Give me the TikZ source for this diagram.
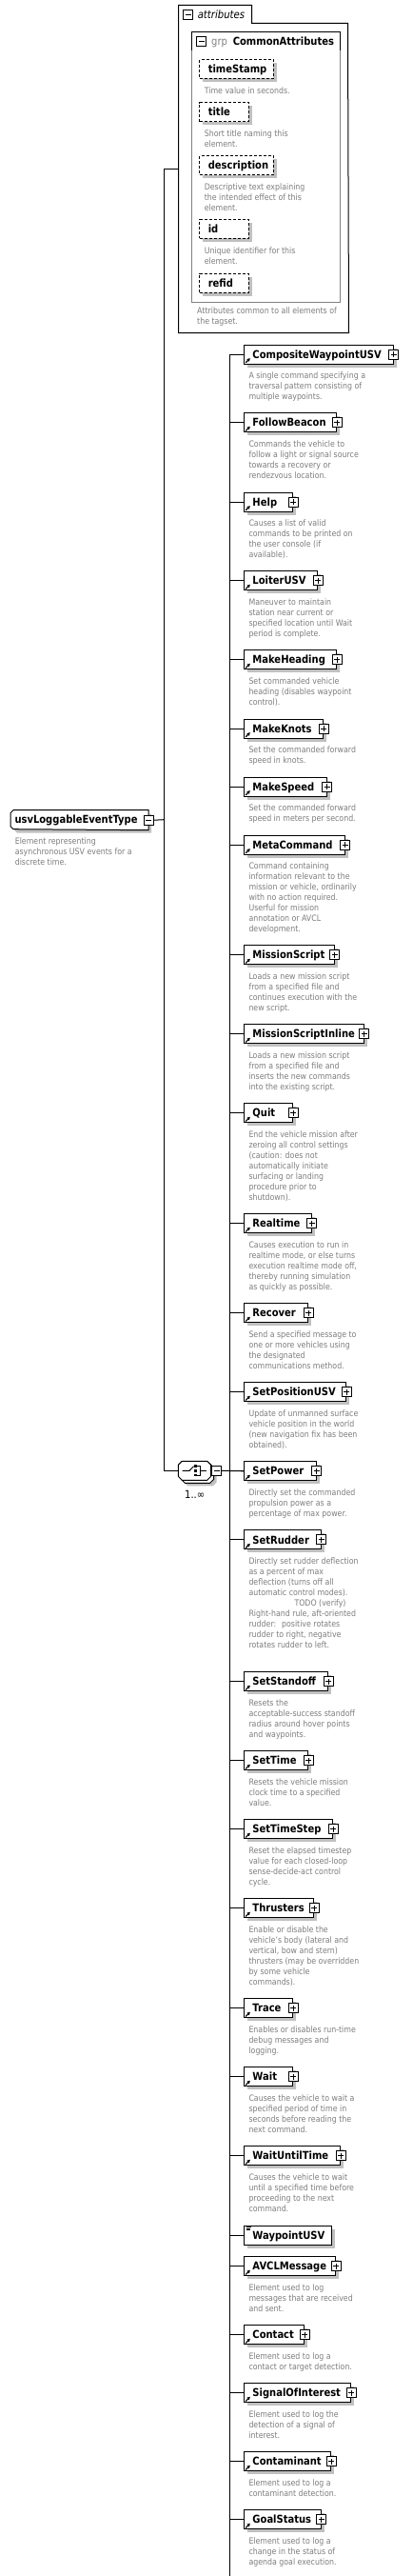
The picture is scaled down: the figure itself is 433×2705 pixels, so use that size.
\documentclass[tikz,border=0pt]{standalone}
\usepackage{fontspec}
\setmainfont{DejaVu Sans}[FakeStretch=0.88]
\usetikzlibrary{arrows.meta}
\definecolor{descgray}{RGB}{125,125,125}
\definecolor{shadowgray}{RGB}{192,192,192}
\definecolor{grpgray}{RGB}{128,128,128}
\tikzset{
  ebox/.style={draw, fill=white, line width=0.75pt, inner sep=0pt, minimum height=15pt},
  abox/.style={ebox, dash pattern=on 2.25pt off 1.5pt},
  ename/.style={font=\fontsize{8.5}{10}\selectfont\bfseries, inner sep=0pt, text height=6.2pt, text depth=0pt, anchor=west},
  desc/.style={font=\fontsize{6.7}{8.25}\selectfont, text=descgray, align=left, inner sep=0pt, anchor=north west},
  pbox/.style={draw, fill=white, line width=0.75pt, inner sep=0pt, minimum size=7.5pt,
    path picture={\draw[line width=0.75pt] ([yshift=-1.5pt]path picture bounding box.north) -- ([yshift=1.5pt]path picture bounding box.south) ([xshift=1.5pt]path picture bounding box.west) -- ([xshift=-1.5pt]path picture bounding box.east);}},
  mbox/.style={draw, fill=white, line width=0.75pt, inner sep=0pt, minimum size=7.5pt,
    path picture={\draw[line width=0.75pt] ([xshift=1.5pt]path picture bounding box.west) -- ([xshift=-1.5pt]path picture bounding box.east);}},
  conn/.style={line width=0.75pt},
  refarrow/.style={line width=0.9pt, -{Triangle[length=2.4pt,width=2.6pt]}},
}
\newcommand\childel[5]{%
  \fill[shadowgray] (260.3,#2+4) rectangle (#3+4,#2+24);
  \node[ebox, anchor=north west, minimum width={(#3-256.3)*0.75pt}] (#1) at (256.3,#2) {};
  \node[ename] (#1-t) at ([xshift=6.5pt]#1.west) {#4};
  \node[pbox] (#1-p) at (#1.east) {};
  \draw[refarrow] ([xshift=1.4pt,yshift=1.4pt]#1.south west) -- ([xshift=4.9pt,yshift=4.9pt]#1.south west);
  \node[desc] (#1-d) at (261,#2+27.6) {\strut #5};
  \draw[conn] (busT |- #1.west) -- (#1.west);
}
\newcommand\attrel[4]{%
  \fill[shadowgray] (213.3,#2+4) rectangle (#3+4,#2+24);
  \node[abox, anchor=north west, minimum width={(#3-209.3)*0.75pt}] (#1) at (209.3,#2) {};
  \node[ename] (#1-t) at ([xshift=6.75pt]#1.west) {#4};
}
\begin{document}
\begin{tikzpicture}[x=0.75pt, y=-0.75pt, line width=0.75pt]
\useasboundingbox (0,0) rectangle (433,2705);
% ---------------- attributes container
\node[inner sep=0pt, anchor=north west, minimum width=133.5pt, minimum height=257.25pt] (attr) at (187.5,5.5) {};
\draw (attr.north west) -- (264.5,5.5) -- (264.5,24.5) -- (365.5,24.5) -- (attr.south east) -- (attr.south west) -- cycle;
\node[mbox] (attr-m) at (197.5,15.8) {};
\node[font=\fontsize{8.6}{10}\selectfont\itshape, inner sep=0pt, text height=6.2pt, text depth=0pt, anchor=west] (attr-t) at (207.3,15.8) {attributes};
% group
\draw (201.3,52.7) -- (201.3,33.3) -- (357.7,33.3) -- (357.7,52.7);
\draw[grpgray] (201.3,52.7) -- (201.3,317.3) -- (357.7,317.3) -- (357.7,52.7);
\node[mbox] (grp-m) at (211.7,43.8) {};
\node[font=\fontsize{8.5}{10}\selectfont, text=grpgray, inner sep=0pt, text height=6.2pt, text depth=0pt, anchor=west] (grp-k) at (221.7,43.8) {grp};
\node[ename] (grp-t) at (244.3,43.8) {CommonAttributes};
\attrel{ts}{62}{286.7}{timeStamp}
\node[desc] (ts-d) at (214.3,90.3) {\strut Time value in seconds.};
\attrel{ti}{107.3}{260.7}{title}
\node[desc] (ti-d) at (214.3,135.4) {\strut Short title naming this\\element.};
\attrel{de}{163.3}{286.7}{description}
\node[desc] (de-d) at (214.3,191.4) {\strut Descriptive text explaining\\the intended effect of this\\element.};
\attrel{idn}{229.8}{260.7}{id}
\node[desc] (idn-d) at (214.3,258.2) {\strut Unique identifier for this\\element.};
\attrel{rf}{286.7}{260.7}{refid}
\node[desc] (attr-d) at (206.7,321.3) {\strut Attributes common to all elements of\\the tagset.};
% ---------------- root
\fill[shadowgray] (18,854.7) -- (159,854.7) -- (159,874.7) -- (18,874.7) -- (15,871.7) -- (15,857.7) -- cycle;
\node[inner sep=0pt, anchor=north west, minimum width=108pt, minimum height=15pt] (root) at (11,850.7) {};
\draw[fill=white] (14,850.7) -- (root.north east) -- (root.south east) -- (14,870.7) -- (11,867.7) -- (11,853.7) -- cycle;
\node[ename] (root-t) at (15,860.7) {usvLoggableEventType};
\node[mbox] (root-m) at (root.east) {};
\node[desc] (root-d) at (15.3,878.3) {\strut Element representing\\asynchronous USV events for a\\discrete time.};
% ---------------- choice
\node[inner sep=0pt, anchor=west, minimum width=25.8pt, minimum height=15pt] (choice) at (187.3,1544.3) {};
\fill[shadowgray] (197.3,1540.3) -- (223.7,1540.3) -- (227.7,1544.3) -- (227.7,1556.3) -- (223.7,1560.3) -- (197.3,1560.3) -- (193.3,1556.3) -- (193.3,1544.3) -- cycle;
\draw[fill=white] (194.3,1537.3) -- (220.7,1537.3) -- (224.7,1541.3) -- (224.7,1553.3) -- (220.7,1557.3) -- (194.3,1557.3) -- (190.3,1553.3) -- (190.3,1541.3) -- cycle;
\draw[fill=white] (191.3,1534.3) -- (217.7,1534.3) -- (221.7,1538.3) -- (221.7,1550.3) -- (217.7,1554.3) -- (191.3,1554.3) -- (187.3,1550.3) -- (187.3,1538.3) -- cycle;
\draw (191.7,1544.3) -- (199,1544.3) -- (203.6,1539.6);
\fill (204.2,1538.3) rectangle (206.7,1540.8);
\fill (204.2,1543.1) rectangle (206.7,1545.6);
\fill (204.2,1547.8) rectangle (206.7,1550.3);
\draw (206.7,1539.5) -- (210.8,1539.5) -- (210.8,1549) -- (206.7,1549);
\draw (210.8,1544.3) -- (216.7,1544.3);
\node[mbox] (choice-m) at ([xshift=3.75pt]choice.east) {};
\node[font=\fontsize{8.5}{10}\selectfont, inner sep=0pt] (occ) at (204.7,1569) {1..∞};
% ---------------- bus
\coordinate (busT) at (241.3,371.7);
\coordinate (busB) at (241.3,2706);
\draw[conn] (busT) -- (busB);
% ---------------- children
\childel{cwu}{361.7}{412.7}{CompositeWaypointUSV}{A single command specifying a\\traversal pattern consisting of\\multiple waypoints.}
\childel{fb}{433.3}{353.3}{FollowBeacon}{Commands the vehicle to\\follow a light or signal source\\towards a recovery or\\rendezvous location.}
\childel{help}{516.7}{307.3}{Help}{Causes a list of valid\\commands to be printed on\\the user console (if\\available).}
\childel{loit}{599.3}{333.3}{LoiterUSV}{Maneuver to maintain\\station near current or\\specified location until Wait\\period is complete.}
\childel{mh}{682.3}{353.3}{MakeHeading}{Set commanded vehicle\\heading (disables waypoint\\control).}
\childel{mk}{754.7}{339.3}{MakeKnots}{Set the commanded forward\\speed in knots.}
\childel{ms}{815.7}{342.7}{MakeSpeed}{Set the commanded forward\\speed in meters per second.}
\childel{meta}{876.7}{361.7}{MetaCommand}{Command containing\\information relevant to the\\mission or vehicle, ordinarily\\with no action required.\\Userful for mission\\annotation or AVCL\\development.}
\childel{mscr}{992.3}{350.7}{MissionScript}{Loads a new mission script\\from a specified file and\\continues execution with the\\new script.}
\childel{msi}{1075.3}{381.7}{MissionScriptInline}{Loads a new mission script\\from a specified file and\\inserts the new commands\\into the existing script.}
\childel{quit}{1158.3}{307.3}{Quit}{End the vehicle mission after\\zeroing all control settings\\(caution: does not\\automatically initiate\\surfacing or landing\\procedure prior to\\shutdown).}
\childel{rt}{1274.3}{326.7}{Realtime}{Causes execution to run in\\realtime mode, or else turns\\execution realtime mode off,\\thereby running simulation\\as quickly as possible.}
\childel{rec}{1368.3}{323.3}{Recover}{Send a specified message to\\one or more vehicles using\\the designated\\communications method.}
\childel{spos}{1451.3}{363.3}{SetPositionUSV}{Update of unmanned surface\\vehicle position in the world\\(new navigation fix has been\\obtained).}
\childel{spow}{1534.3}{331.7}{SetPower}{Directly set the commanded\\propulsion power as a\\percentage of max power.}
\childel{srud}{1606.4}{336.7}{SetRudder}{Directly set rudder deflection\\as a percent of max\\deflection (turns off all\\automatic control modes).\\\hspace*{36pt}TODO (verify)\\Right-hand rule, aft-oriented\\rudder:~ positive rotates\\rudder to right, negative\\rotates rudder to left.}
\childel{sso}{1755.3}{344.3}{SetStandoff}{Resets the\\acceptable-success standoff\\radius around hover points\\and waypoints.}
\childel{stime}{1838.3}{323.3}{SetTime}{Resets the vehicle mission\\clock time to a specified\\value.}
\childel{sts}{1910.3}{349.3}{SetTimeStep}{Reset the elapsed timestep\\value for each closed-loop\\sense-decide-act control\\cycle.}
\childel{thr}{1993.3}{329.3}{Thrusters}{Enable or disable the\\vehicle's body (lateral and\\vertical, bow and stern)\\thrusters (may be overridden\\by some vehicle\\commands).}
\childel{trace}{2098.3}{307.3}{Trace}{Enables or disables run-time\\debug messages and\\logging.}
\childel{wait}{2170.3}{307.3}{Wait}{Causes the vehicle to wait a\\specified period of time in\\seconds before reading the\\next command.}
\childel{wut}{2253.3}{357.3}{WaitUntilTime}{Causes the vehicle to wait\\until a specified time before\\proceeding to the next\\command.}
% WaypointUSV (simple content, no description)
\fill[shadowgray] (260.3,2340.7) rectangle (352.3,2360.7);
\node[ebox, anchor=north west, minimum width={(348.3-256.3)*0.75pt}] (wp) at (256.3,2336.7) {};
\node[ename] (wp-t) at ([xshift=6.5pt]wp.west) {WaypointUSV};
\draw[line width=0.5pt] (258.5,2338.6) -- (263.8,2338.6) (258.5,2340.2) -- (262.6,2340.2) (258.5,2341.8) -- (262.6,2341.8);
\draw[conn] (busT |- wp.west) -- (wp.west);
\childel{avcl}{2369.3}{352.3}{AVCLMessage}{Element used to log\\messages that are received\\and sent.}
\childel{cont}{2441.3}{319.3}{Contact}{Element used to log a\\contact or target detection.}
\childel{soi}{2502.3}{368.3}{SignalOfInterest}{Element used to log the\\detection of a signal of\\interest.}
\childel{conta}{2574.3}{347.3}{Contaminant}{Element used to log a\\contaminant detection.}
\childel{goal}{2635.3}{336.7}{GoalStatus}{Element used to log a\\change in the status of\\agenda goal execution.}
% ---------------- main connectors
\coordinate (j) at (172.3,860.7);
\draw[conn] (root-m.east) -- (j);
\draw[conn] (attr.west) -| (j) |- (choice.west);
\draw[conn] (choice-m.east) -- (spow.west);
\end{tikzpicture}
\end{document}
